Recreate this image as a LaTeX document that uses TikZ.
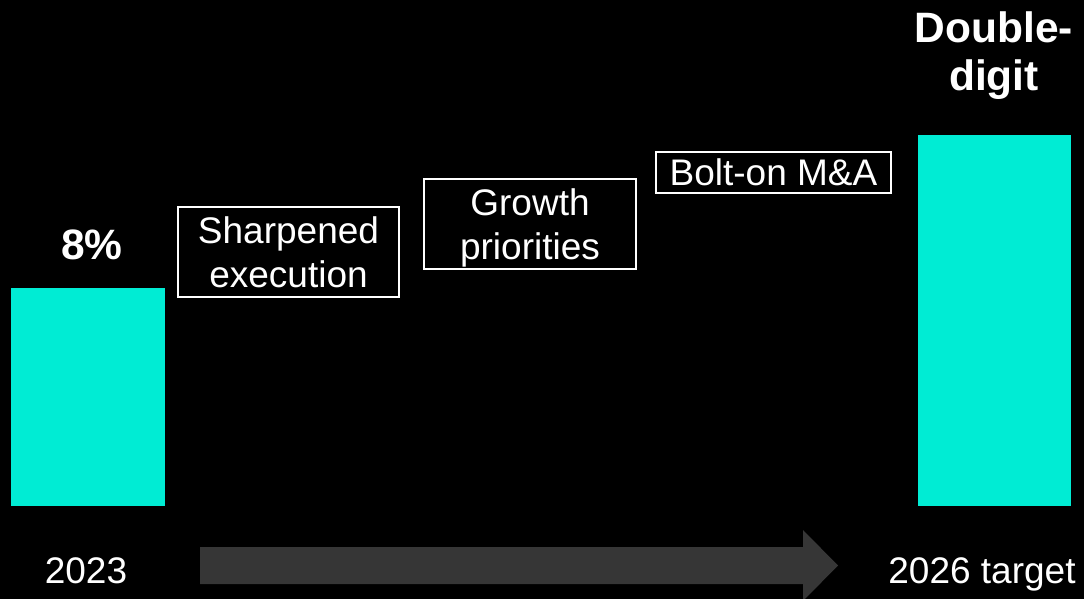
\documentclass[tikz,border=0pt]{standalone}
\usepackage{fontspec}
\setmainfont{Liberation Sans}
\definecolor{barcyan}{RGB}{0,236,212}
\definecolor{arrowgrey}{RGB}{54,54,54}
\begin{document}
\begin{tikzpicture}[x=1pt,y=-1pt,
  bar/.style={fill=barcyan, draw=none, inner sep=0pt, outer sep=0pt, anchor=north west},
  lever/.style={draw=white, line width=1.5pt, text=white, align=center, inner sep=0pt,
    font=\fontsize{37}{44}\selectfont},
  value/.style={text=white, align=center, inner sep=0pt,
    font=\bfseries\fontsize{42.5}{48}\selectfont},
  year/.style={text=white, inner sep=0pt, anchor=base, font=\fontsize{37}{44}\selectfont}]
% canvas
\fill[black] (0,0) rectangle (1084,599);
\useasboundingbox (0,0) rectangle (1084,599);

% bars
\node[bar, minimum width=154pt, minimum height=218pt] (bar23) at (11,288) {};
\node[bar, minimum width=153pt, minimum height=371pt] (bar26) at (918,135) {};

% bar values
\node[value, anchor=base] (val23) at (92,259) {8\%};
\node[value, anchor=north] (val26) at (994,12) {Double-\\digit};

% growth levers
\node[lever, minimum width=221pt, minimum height=90pt] (lev1) at (288.5,252) {Sharpened\\execution};
\node[lever, minimum width=212pt, minimum height=90pt, text depth=0pt] (lev2) at (530,224) {Growth\\priorities};
\node[lever, minimum width=235pt, minimum height=41pt] (lev3) at (773.5,172.5) {Bolt-on M\&A};

% timeline
\node[year] (y23) at (86,583.3) {2023};
\node[year] (y26) at (982,583) {2026 target};
\coordinate (tailmid) at (200,565.5);
\coordinate (tip) at (838,565.5);
\fill[arrowgrey] ([yshift=18.5pt]tailmid) -- (803,547) -- (803,530) -- (tip)
  -- (803,601) -- (803,584) -- ([yshift=-18.5pt]tailmid) -- cycle;
\end{tikzpicture}
\end{document}
